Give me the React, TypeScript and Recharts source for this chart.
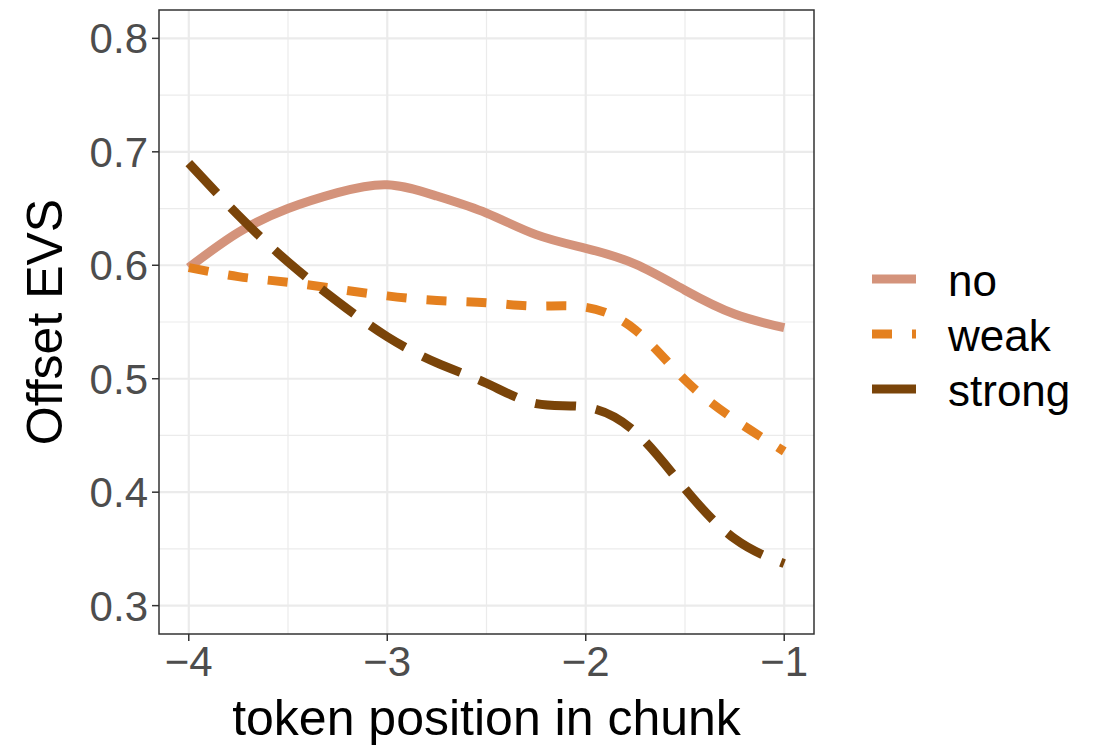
import { LineChart, Line, XAxis, YAxis, CartesianGrid, ReferenceArea, Legend, Label } from "recharts";

// token positions in the chunk (x) and smoothed offset EVS per emphasis level
const positions = [-4, -3.75, -3.5, -3.25, -3, -2.75, -2.5, -2.25, -2, -1.75, -1.5, -1.25, -1];
const noEvs = [0.598, 0.629, 0.65, 0.664, 0.671, 0.661, 0.646, 0.627, 0.615, 0.601, 0.578, 0.557, 0.545];
const weakEvs = [0.598, 0.59, 0.585, 0.579, 0.573, 0.569, 0.567, 0.564, 0.563, 0.543, 0.499, 0.464, 0.436];
const strongEvs = [0.69, 0.644, 0.603, 0.568, 0.537, 0.514, 0.496, 0.478, 0.475, 0.453, 0.403, 0.359, 0.337];

const xTicks = [-4, -3, -2, -1];
const xMinor = [-3.5, -2.5, -1.5];
const yTicks = [0.3, 0.4, 0.5, 0.6, 0.7, 0.8];
const yMinor = [0.35, 0.45, 0.55, 0.65, 0.75];

const series = [
  { key: "no", color: "#D4937B", dash: undefined, keyDash: undefined },
  { key: "weak", color: "#E4801F", dash: "20 20", keyDash: "20 20" },
  { key: "strong", color: "#7A4409", dash: "41 20", keyDash: undefined },
];

const data = positions.map((x, i) => ({
  x,
  no: noEvs[i],
  weak: weakEvs[i],
  strong: strongEvs[i],
}));

const FONT = "'Liberation Sans', Arial, Helvetica, sans-serif";

const LegendKeys = () => (
  <svg width={230} height={170} style={{ fontFamily: FONT }}>
    {series.map((s, i) => (
      <g key={s.key}>
        <line
          x1={12}
          x2={56}
          y1={29 + i * 55}
          y2={29 + i * 55}
          stroke={s.color}
          strokeWidth={9}
          strokeDasharray={s.keyDash}
        />
        <text x={88} y={46 + i * 55} fontSize={44} fill="#000">
          {s.key}
        </text>
      </g>
    ))}
  </svg>
);

export default function App() {
  return (
    <div style={{ position: "absolute", left: 0, top: 0, width: 1095, height: 750, background: "#fff", fontFamily: FONT }}>
      <LineChart width={1095} height={750} data={data} margin={{ top: 10, right: 281, bottom: 0, left: 0 }}>
        <CartesianGrid stroke="#EBEBEB" strokeWidth={1.2} verticalValues={xMinor} horizontalValues={yMinor} />
        <CartesianGrid stroke="#EBEBEB" strokeWidth={2.2} verticalValues={xTicks} horizontalValues={yTicks} />
        <XAxis
          dataKey="x"
          type="number"
          domain={[-4.15, -0.85]}
          ticks={xTicks}
          allowDataOverflow
          height={116}
          axisLine={false}
          tickSize={7}
          tickMargin={5}
          tickLine={{ stroke: "#333333", strokeWidth: 1.5 }}
          tick={{ fill: "#4D4D4D", fontSize: 42 }}
          tickFormatter={(v) => String(v).replace("-", "\u2212")}
        >
          <Label
            content={() => (
              <text x={486.5} y={735} textAnchor="middle" fontSize={50} fill="#000">
                token position in chunk
              </text>
            )}
          />
        </XAxis>
        <YAxis
          type="number"
          domain={[0.275, 0.825]}
          ticks={yTicks}
          allowDataOverflow
          width={159}
          axisLine={false}
          tickSize={7}
          tickMargin={4}
          tickLine={{ stroke: "#333333", strokeWidth: 1.5 }}
          tick={{ fill: "#4D4D4D", fontSize: 42 }}
          tickFormatter={(v) => Number(v).toFixed(1)}
        >
          <Label
            content={() => (
              <text x={62} y={322} transform="rotate(-90, 62, 322)" textAnchor="middle" fontSize={50} fill="#000">
                Offset EVS
              </text>
            )}
          />
        </YAxis>
        <ReferenceArea
          x1={-4.15}
          x2={-0.85}
          y1={0.275}
          y2={0.825}
          fill="none"
          stroke="#333333"
          strokeWidth={1.5}
          ifOverflow="visible"
        />
        {series.map((s) => (
          <Line
            key={s.key}
            type="natural"
            dataKey={s.key}
            stroke={s.color}
            strokeWidth={9}
            strokeDasharray={s.dash}
            dot={false}
            activeDot={false}
            isAnimationActive={false}
          />
        ))}
        <Legend
          layout="vertical"
          align="center"
          verticalAlign="middle"
          wrapperStyle={{ position: "absolute", left: 860, top: 250, width: 230, height: 170 }}
          content={() => <LegendKeys />}
        />
      </LineChart>
    </div>
  );
}
